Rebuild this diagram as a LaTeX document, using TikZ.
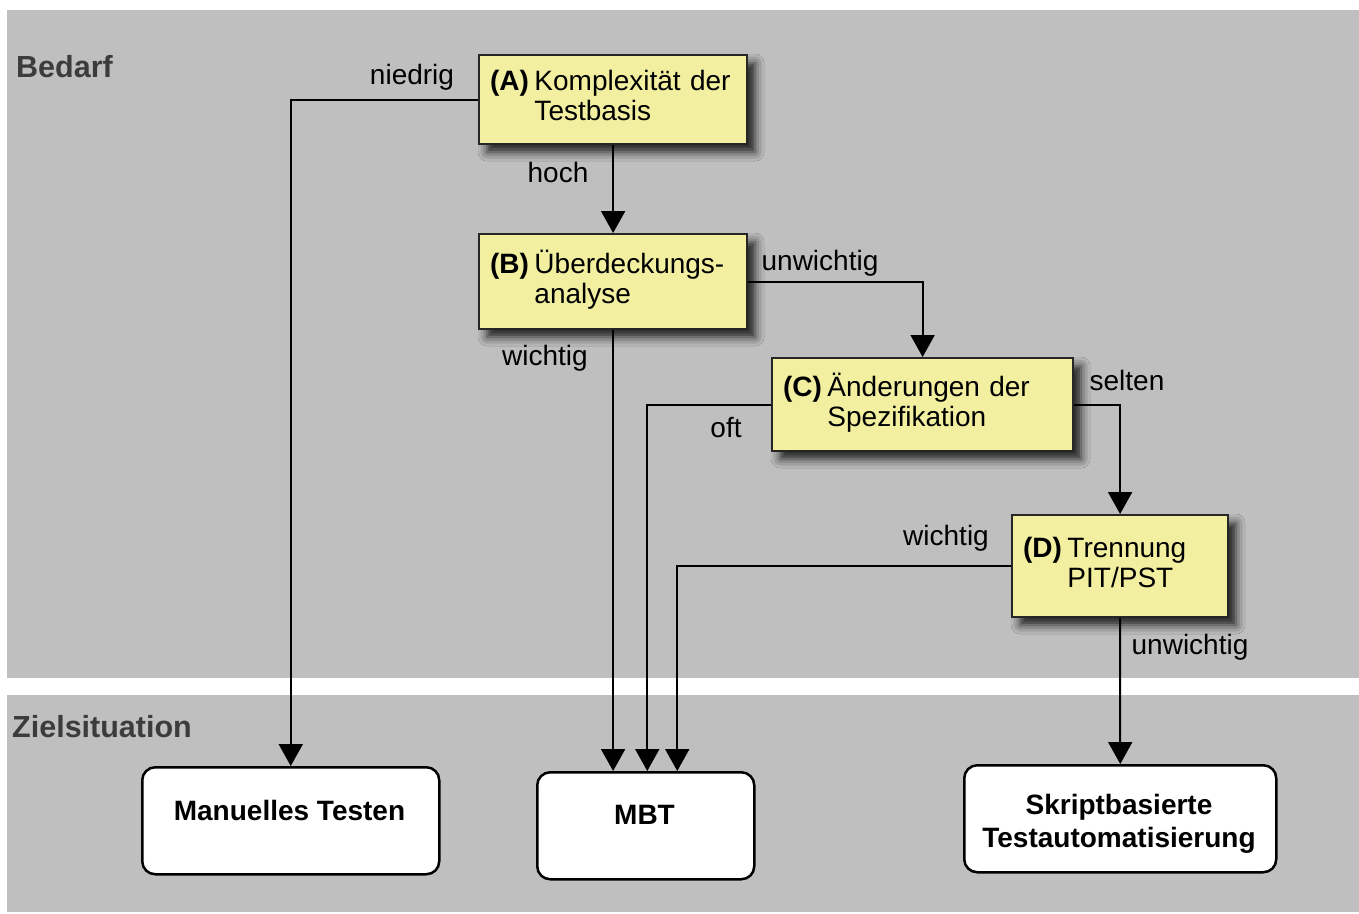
\documentclass[tikz,border=0pt]{standalone}
\usepackage{fontspec}
\setmainfont{Liberation Sans}
\usetikzlibrary{arrows.meta,shadows.blur,calc}
\definecolor{panelgray}{RGB}{191,191,191}
\definecolor{boxyellow}{RGB}{242,240,160}
\definecolor{headgray}{RGB}{60,60,60}
\tikzset{
  panel/.style={fill=panelgray,draw=none},
  decision/.style={draw=black!85,line width=2.2pt,fill=boxyellow,rectangle,
    inner xsep=11pt,inner ysep=0pt,align=left,anchor=north west,
    blur shadow={shadow xshift=8pt,shadow yshift=-8pt,shadow blur radius=9pt,shadow opacity=85},
    font=\fontsize{28}{30}\selectfont},
  outcome/.style={draw=black,line width=2.5pt,fill=white,rectangle,rounded corners=13pt,
    anchor=north west,inner sep=0pt},
  outtext/.style={font=\fontsize{28}{33}\selectfont\bfseries,align=center,inner sep=0pt},
  elabel/.style={font=\fontsize{28}{30}\selectfont,inner sep=0pt},
  heading/.style={font=\fontsize{30.5}{33}\selectfont\bfseries,text=headgray,inner sep=0pt,anchor=base west},
  flow/.style={line width=2pt,draw=black,-{Triangle[width=24pt,length=22pt]}},
}
\newcommand{\dtext}[3]{\begin{tabular}{@{}l@{\hspace{5.5pt}}l@{}}\textbf{#1}&#2\\&#3\end{tabular}}
\begin{document}
\begin{tikzpicture}[x=1pt,y=-1pt]
\useasboundingbox (0,0) rectangle (1359,913);
% background bands
\fill[white] (0,0) rectangle (1359,913);
\path[panel] (7,10) rectangle (1359,678);
\path[panel] (7,695) rectangle (1359,912);
\node[heading] (bedarf) at (16,77) {Bedarf};
\node[heading] (ziel) at (12,737) {Zielsituation};

% decision boxes
\node[decision,minimum width=268pt,minimum height=89pt,text width=246pt] (a) at (478,54)
  {\dtext{(A)}{Komplexität der}{Testbasis}};
\node[decision,minimum width=268pt,minimum height=95pt,text width=246pt] (b) at (478,233)
  {\dtext{(B)}{Überdeckungs-}{analyse}};
\node[decision,minimum width=301pt,minimum height=93pt,text width=279pt] (c) at (771,357)
  {\dtext{(C)}{Änderungen der}{Spezifikation}};
\node[decision,minimum width=216pt,minimum height=102pt,text width=194pt] (d) at (1011,514)
  {\dtext{(D)}{Trennung}{PIT/PST}};

% target situations
\node[outcome,minimum width=297pt,minimum height=107pt] (mt) at (141,766) {};
\node[outtext] (mtt) at (289.5,810) {Manuelles Testen};
\node[outcome,minimum width=217pt,minimum height=107pt] (mbt) at (536,771) {};
\node[outtext] (mbtt) at (644.5,815) {MBT};
\node[outcome,minimum width=312pt,minimum height=107pt] (sk) at (963,764) {};
\node[outtext] (skt) at (1119,824) {Skriptbasierte\\Testautomatisierung};

\coordinate (m2) at ([xshift=1.5pt]mbt.north);
\coordinate (m3) at ([xshift=31.5pt]mbt.north);

% connectors
\draw[flow] (a.west) -| (mt.north);
\draw[flow] (a.south) -- (b.north);
\draw[flow] (b.east) -| (c.north);
\draw[flow] (b.south) -- (b.south |- mbt.north);
\draw[flow] (c.west) -| (m2);
\draw[flow] (c.east) -| (d.north);
\draw[flow] (d.west) -| (m3);
\draw[flow] (d.south) -- (sk.north);

% connector labels
\node[elabel] (l1) at (412,77) {niedrig};
\node[elabel] (l2) at (558,172) {hoch};
\node[elabel] (l3) at (820,263) {unwichtig};
\node[elabel] (l4) at (545,358) {wichtig};
\node[elabel] (l5) at (726,427) {oft};
\node[elabel] (l6) at (1127,380) {selten};
\node[elabel] (l7) at (946,538) {wichtig};
\node[elabel] (l8) at (1190,647) {unwichtig};
\end{tikzpicture}
\end{document}
